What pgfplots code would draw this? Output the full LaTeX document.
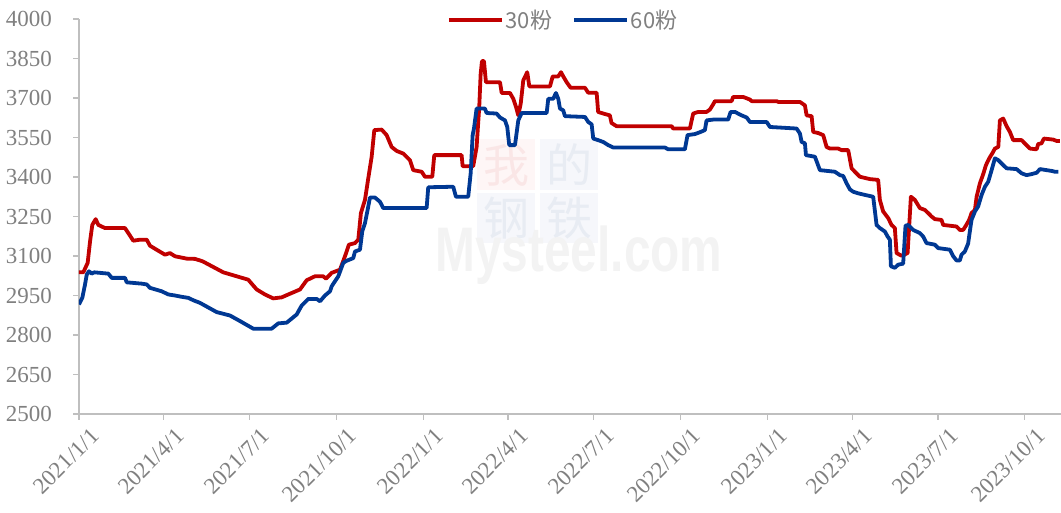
\documentclass[border=0pt]{standalone}
\usepackage{fontspec}
\setmainfont{Liberation Serif}
\newfontfamily\cjk{Noto Sans CJK SC}
\newfontfamily\wmfont{Liberation Sans}
\usepackage{pgfplots}
\pgfplotsset{compat=1.18}
\definecolor{redL}{RGB}{192,0,0}
\definecolor{blueL}{RGB}{0,56,147}
\definecolor{axgray}{RGB}{191,191,191}
\definecolor{txtgray}{RGB}{128,128,128}
\definecolor{wmgray}{RGB}{243,243,243}
\definecolor{wmpinkbg}{RGB}{254,246,246}
\definecolor{wmpink}{RGB}{250,230,230}
\definecolor{wmbluebg}{RGB}{246,247,251}
\definecolor{wmblue}{RGB}{232,236,243}

\pgfplotstableread{
x y
0 3038
4.6 3038
9.2 3074
11.7 3155
14.1 3218
17.7 3240
20.5 3218
27.6 3206
48.8 3206
52.3 3187
57.6 3158
64.7 3162
71.8 3162
75.3 3139
84.1 3120
91.2 3105
96.5 3111
101.8 3099
114.2 3090
123 3089
131 3080
153 3038
167.2 3023
179.5 3010
188.4 2973
197.2 2954
206 2939
215 2943
222 2954
234.4 2973
241.5 3008
250.3 3023
259 3023
262 3014
268 3036
276.8 3048
282.1 3099
286.3 3143
292.7 3149
296.2 3162
299 3263
303.3 3313
306.8 3395
310.4 3477
313.2 3578
321 3580
326.3 3559
331.6 3514
336.9 3499
343.9 3489
351 3464
354.5 3426
363.4 3420
366.9 3401
374.7 3401
376.8 3483
405.8 3483
406.9 3441
418.1 3441
421.7 3514
424.5 3666
426 3792
427.4 3840
429.5 3840
431.6 3760
446.5 3760
448.3 3719
457.1 3719
460.6 3697
463.5 3666
465.9 3634
468.5 3679
471.2 3767
475.4 3798
477.6 3744
499.5 3744
502.4 3782
508.3 3782
511.2 3798
513.6 3782
517.2 3760
521.4 3739
536.6 3739
540.1 3720
549 3720
550.6 3647
556 3641
563 3634
564.8 3605
570.1 3593
628.5 3593
630.2 3584
647.9 3584
651.4 3641
656.7 3647
665.6 3647
669.1 3656
672.6 3676
674.4 3688
692.1 3688
693.8 3704
704.4 3704
711.6 3694
713.4 3688
739.9 3688
741.6 3685
764.6 3685
769.9 3672
771.7 3634
777 3631
778.7 3571
784 3567
789.3 3559
792.9 3514
796.4 3508
805.2 3508
808.8 3502
815.8 3502
819.4 3433
822.9 3420
828.2 3401
838.8 3392
847.6 3389
849.4 3313
852.9 3269
858.2 3244
861.8 3218
865.3 3206
867.1 3111
872.4 3101
878.8 3111
882.3 3325
886.5 3313
891.8 3282
897.1 3275
900.6 3263
904.2 3250
907.7 3240
914.8 3237
916.5 3218
930.7 3212
934.2 3199
937.7 3199
940.6 3215
944.1 3237
946.6 3263
950.2 3275
952 3325
955.5 3376
959 3411
961.9 3445
965.4 3471
969 3492
971.4 3508
975 3514
976.7 3615
980.2 3622
983.8 3593
987.3 3571
990.8 3540
999.7 3540
1008.5 3508
1015.6 3505
1017.3 3525
1020.9 3528
1023.4 3546
1033.2 3542
1036.8 3537
1040.3 3537
}\thirty

\pgfplotstableread{
x y
0 2916
3.5 2941
6.4 2992
8.2 3029
10.6 3042
13.5 3033
16.2 3038
31.1 3033
34.7 3017
48.8 3017
50.6 3000
66.5 2995
71.8 2992
75.3 2979
87.7 2966
94.7 2954
101.8 2950
108.9 2945
115.9 2941
121.2 2932
128.3 2922
146 2887
160.1 2874
170.7 2853
184.8 2824
204.3 2824
211.3 2844
220.3 2847
230.9 2878
236.2 2912
243.2 2937
252.1 2937
255.6 2928
260.9 2950
266.2 2966
268 2985
275 3023
280.3 3074
283.9 3082
290.9 3092
292.7 3117
298 3124
300.4 3193
303.3 3225
306.1 3275
308.6 3322
313.9 3322
319.2 3306
322.7 3282
368.7 3282
370.4 3361
396.9 3363
399.8 3325
412.8 3325
415.4 3414
417.5 3559
418.9 3584
421.7 3660
430.5 3660
432.3 3643
442.9 3641
446.5 3626
451.8 3615
454.2 3590
456.3 3521
462.4 3521
465.9 3615
469.5 3643
496 3643
497.7 3697
503 3697
505.8 3719
508.3 3697
510.1 3660
513.6 3653
515.4 3631
536.6 3628
540.1 3609
543.7 3600
545.4 3546
550.6 3540
556 3533
561.3 3521
566.6 3512
621.4 3512
624.9 3505
642.6 3505
645.4 3559
653.2 3563
658.5 3570
663.8 3578
665.6 3615
672.6 3618
688.5 3618
691.1 3647
695.7 3647
702.8 3634
708.1 3626
711.6 3609
729.3 3609
732.8 3590
761.1 3584
764.6 3565
766.4 3533
769.9 3528
771 3483
780.5 3477
785.8 3426
801.7 3420
807 3407
810.5 3404
814.1 3376
817.6 3353
821.1 3344
826.4 3338
833.5 3332
842.3 3325
845.9 3218
849.4 3206
854.7 3193
857.6 3174
860 3162
861.1 3061
865.3 3055
868.8 3067
874.1 3071
876.6 3215
879.4 3218
884.7 3199
891.8 3187
895.3 3174
898.9 3149
907.7 3143
911.2 3130
923.6 3124
927.2 3099
930.7 3083
934.2 3083
936 3105
939.5 3117
943 3147
944.8 3193
946.6 3237
950.2 3269
953.6 3288
957.3 3332
960.8 3363
964.3 3382
967.9 3426
971.4 3471
975 3464
980.2 3445
983.8 3433
994.4 3430
999.7 3414
1005 3407
1010.3 3411
1015.6 3416
1019.2 3430
1026.3 3426
1031.6 3423
1035.1 3420
1038.6 3420
}\sixty

\begin{document}
\begin{tikzpicture}
\useasboundingbox (-79pt,-99pt) rectangle (982pt,414pt);
% faint watermark
\fill[wmpinkbg] (398pt,224pt) rectangle (456pt,275pt);
\fill[wmbluebg] (461pt,224pt) rectangle (519pt,275pt);
\fill[wmbluebg] (398pt,171pt) rectangle (456pt,221pt);
\fill[wmbluebg] (461pt,171pt) rectangle (519pt,221pt);
\node[text=wmpink, font=\cjk\fontsize{46}{46}\selectfont] at (427pt,249pt) {我};
\node[text=wmblue, font=\cjk\fontsize{46}{46}\selectfont] at (490pt,249pt) {的};
\node[text=wmblue, font=\cjk\fontsize{46}{46}\selectfont] at (427pt,196pt) {钢};
\node[text=wmblue, font=\cjk\fontsize{46}{46}\selectfont] at (490pt,196pt) {铁};
\node[text=wmgray, font=\wmfont\bfseries\fontsize{63}{63}\selectfont, xscale=0.76, anchor=base west, inner sep=0pt] at (356pt,142pt) {Mysteel.com};
\begin{axis}[
  at={(0,0)}, anchor=south west,
  scale only axis, width=982pt, height=395pt,
  xmin=0, xmax=1041.5, ymin=2500, ymax=4000,
  axis x line=bottom, axis y line=left,
  axis line style={draw=axgray, line width=1.5pt, -},
  ytick={2500,2650,2800,2950,3100,3250,3400,3550,3700,3850,4000},
  xtick={0,90,181,273,365,455,546,638,730,820,911,1003},
  xticklabels={2021/1/1,2021/4/1,2021/7/1,2021/10/1,2022/1/1,2022/4/1,2022/7/1,2022/10/1,2023/1/1,2023/4/1,2023/7/1,2023/10/1},
  tick align=outside, major tick length=6pt,
  tick style={draw=axgray, line width=1.2pt},
  ticklabel style={font=\fontsize{23}{25}\selectfont, text=txtgray},
  /pgf/number format/assume math mode=true,
  /pgf/number format/1000 sep={},
  yticklabel style={inner sep=0pt, xshift=-21pt, anchor=east},
  xticklabel style={inner sep=0pt, rotate=45, anchor=north east, xshift=3pt, yshift=-12pt},
  legend columns=2,
  legend style={at={(0.493,0.997)}, anchor=center, draw=none, fill=none,
    font=\cjk\fontsize{22}{24}\selectfont, text=txtgray,
    /tikz/every even column/.append style={column sep=18pt}},
  legend image code/.code={\draw[#1, line width=3.8pt] (0pt,0pt) -- (53pt,0pt);},
  line join=round,
]
\addplot[redL, line width=3.8pt] table[x=x,y=y] {\thirty};
\addlegendentry{30粉}
\addplot[blueL, line width=3.8pt] table[x=x,y=y] {\sixty};
\addlegendentry{60粉}
\end{axis}
\end{tikzpicture}
\end{document}
